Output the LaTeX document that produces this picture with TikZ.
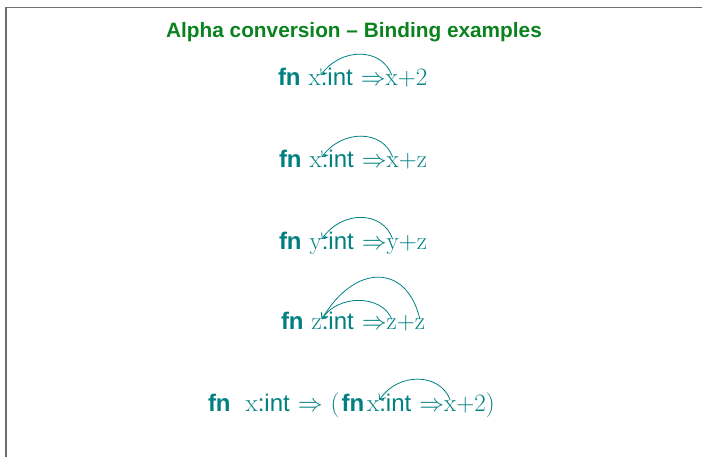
\documentclass[tikz,border=0pt]{standalone}
\usepackage{fontspec}
\setsansfont{Liberation Sans}
\usetikzlibrary{arrows.meta}
\definecolor{tealc}{RGB}{0,128,128}
\definecolor{titlegreen}{RGB}{10,130,30}
\definecolor{framec}{RGB}{110,110,110}
\tikzset{
  tok/.style={inner sep=0pt, outer sep=0pt, anchor=base west, text=tealc, font=\fontsize{25}{30}\selectfont},
  kw/.style={tok, font=\fontsize{24}{28}\selectfont\sffamily\bfseries},
  sf/.style={tok, font=\fontsize{24}{28}\selectfont\sffamily},
  bind/.style={draw=tealc, line width=0.8pt, -{Straight Barb[length=5pt,width=8pt]}},
}
\begin{document}
\begin{tikzpicture}[x=1pt, y=-1pt]
\useasboundingbox (0,0) rectangle (702,457);
\draw[framec, line width=1.3pt] (6,457) -- (6,7.5) -- (702,7.5);
\node[anchor=base, inner sep=0pt, text=titlegreen, font=\fontsize{20.8}{24}\selectfont\sffamily\bfseries] (title) at (354,38) {Alpha conversion -- Binding examples};

% row 1
\node[kw] (r1fn) at (278,86) {fn};
\node[tok] (r1b) at ([xshift=8pt]r1fn.base east) {x};
\node[sf] (r1int) at (r1b.base east) {:int};
\node[tok] (r1arr) at ([xshift=8pt]r1int.base east) {$\Rightarrow$};
\node[tok] (r1u) at (r1arr.base east) {x};
\node[tok] (r1rest) at (r1u.base east) {+2};
\draw[bind] (r1u.north) .. controls +(-10,-28) and +(20,-28) .. (r1b.north east);

% row 2
\node[kw] (r2fn) at (279,168) {fn};
\node[tok] (r2b) at ([xshift=8pt]r2fn.base east) {x};
\node[sf] (r2int) at (r2b.base east) {:int};
\node[tok] (r2arr) at ([xshift=8pt]r2int.base east) {$\Rightarrow$};
\node[tok] (r2u) at (r2arr.base east) {x};
\node[tok] (r2rest) at (r2u.base east) {+z};
\draw[bind] (r2u.north) .. controls +(-10,-28) and +(20,-28) .. (r2b.north east);

% row 3
\node[kw] (r3fn) at (279,250) {fn};
\node[tok] (r3b) at ([xshift=8pt]r3fn.base east) {y};
\node[sf] (r3int) at (r3b.base east) {:int};
\node[tok] (r3arr) at ([xshift=8pt]r3int.base east) {$\Rightarrow$};
\node[tok] (r3u) at (r3arr.base east) {y};
\node[tok] (r3rest) at (r3u.base east) {+z};
\draw[bind] (r3u.north) .. controls +(-10,-29) and +(20,-29) .. (r3b.north east);

% row 4
\node[kw] (r4fn) at (281,330) {fn};
\node[tok] (r4b) at ([xshift=8pt]r4fn.base east) {z};
\node[sf] (r4int) at (r4b.base east) {:int};
\node[tok] (r4arr) at ([xshift=8pt]r4int.base east) {$\Rightarrow$};
\node[tok] (r4u) at (r4arr.base east) {z};
\node[tok] (r4plus) at (r4u.base east) {+};
\node[tok] (r4v) at (r4plus.base east) {z};
\draw[bind] (r4u.north) .. controls +(-10,-25) and +(16,-25) .. (r4b.north east);
\draw[bind] (r4v.north) .. controls +(-13,-56) and +(33,-56) .. (r4b.north east);

% row 5
\node[kw] (r5fn) at (208,411) {fn};
\node[tok] (r5b) at ([xshift=15pt]r5fn.base east) {x};
\node[sf] (r5int) at (r5b.base east) {:int};
\node[tok] (r5arr) at ([xshift=8pt]r5int.base east) {$\Rightarrow$};
\node[tok] (r5open) at ([xshift=8pt]r5arr.base east) {(};
\node[kw] (r5fn2) at ([xshift=2pt]r5open.base east) {fn};
\node[tok] (r5b2) at ([xshift=3pt]r5fn2.base east) {x};
\node[sf] (r5int2) at (r5b2.base east) {:int};
\node[tok] (r5arr2) at ([xshift=8pt]r5int2.base east) {$\Rightarrow$};
\node[tok] (r5u) at (r5arr2.base east) {x};
\node[tok] (r5rest) at (r5u.base east) {+2)};
\draw[bind] (r5u.north) .. controls +(-10,-28) and +(18,-28) .. (r5b2.north east);
\end{tikzpicture}
\end{document}
